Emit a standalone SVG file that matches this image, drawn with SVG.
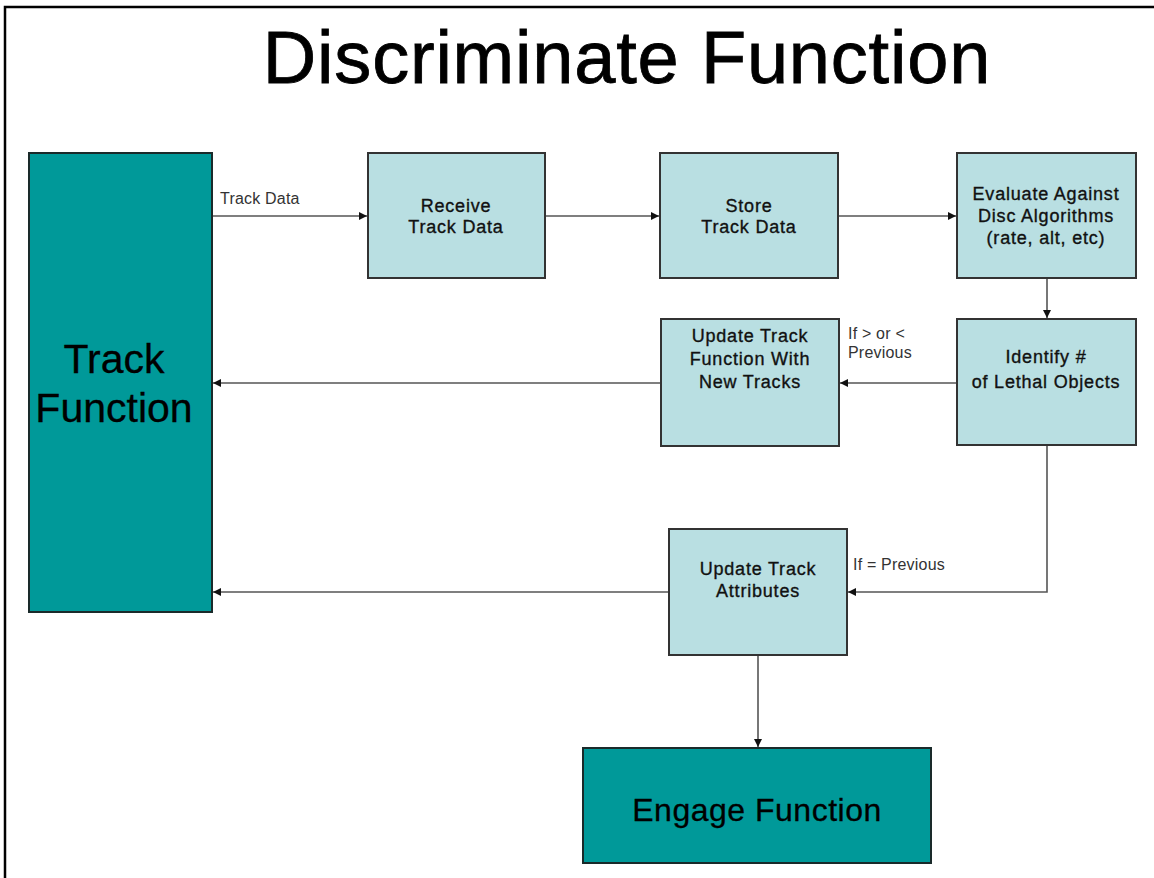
<svg xmlns="http://www.w3.org/2000/svg" width="1154" height="878" viewBox="0 0 1154 878">
  <defs>
    <style>
      .frame { fill: none; stroke: #000; stroke-width: 2.5; }
      .dark { fill: #009999; stroke: #1a2a2a; stroke-width: 2; }
      .light { fill: #b9dfe2; stroke: #333; stroke-width: 2; }
      .title { font-family: "Liberation Sans", Arial, sans-serif; font-size: 74px; fill: #000; stroke: #000; stroke-width: 0.8px; letter-spacing: 0.8px; }
      .big { font-family: "Liberation Sans", Arial, sans-serif; font-size: 41px; fill: #000; stroke: #000; stroke-width: 0.3px; }
      .txt { font-family: "Liberation Sans", Arial, sans-serif; font-size: 18px; fill: #111; stroke: #111; stroke-width: 0.35px; letter-spacing: 0.8px; text-anchor: middle; }
      .lbl { font-family: "Liberation Sans", Arial, sans-serif; font-size: 16px; fill: #333; letter-spacing: 0.2px; }
      .conn { fill: none; stroke: #555; stroke-width: 1.6; marker-end: url(#arrow); }
    </style>
    <marker id="arrow" viewBox="0 0 10 10" refX="10" refY="5" markerWidth="8" markerHeight="8" markerUnits="userSpaceOnUse" orient="auto">
      <path d="M0,0 L10,5 L0,10 z" fill="#111"/>
    </marker>
  </defs>

  <rect width="1154" height="878" fill="#fff"/>
  <!-- page frame: top and left edges only -->
  <path class="frame" d="M5,878 V7 H1154"/>

  <text class="title" x="627" y="83" text-anchor="middle">Discriminate Function</text>

  <!-- connectors -->
  <g id="connectors">
    <line class="conn" x1="212" y1="216" x2="367" y2="216"/>
    <line class="conn" x1="545" y1="216" x2="659" y2="216"/>
    <line class="conn" x1="838" y1="216" x2="956" y2="216"/>
    <line class="conn" x1="1047" y1="278" x2="1047" y2="318"/>
    <line class="conn" x1="957" y1="383" x2="840" y2="383"/>
    <line class="conn" x1="661" y1="383" x2="213" y2="383"/>
    <polyline class="conn" points="1047,445 1047,592 848,592"/>
    <line class="conn" x1="669" y1="592" x2="213" y2="592"/>
    <line class="conn" x1="758" y1="655" x2="758" y2="747"/>
    <text class="lbl" x="220" y="204">Track Data</text>
    <text class="lbl" x="848" y="339">If &gt; or &lt;</text>
    <text class="lbl" x="848" y="358">Previous</text>
    <text class="lbl" x="853" y="570">If = Previous</text>
  </g>

  <g id="track-function">
    <rect class="dark" x="29" y="153" width="183" height="459"/>
    <text class="big" x="114" y="373" text-anchor="middle">Track</text>
    <text class="big" x="114" y="422" text-anchor="middle">Function</text>
  </g>

  <g id="receive">
    <rect class="light" x="368" y="153" width="177" height="125"/>
    <text class="txt" x="456" y="212">Receive</text>
    <text class="txt" x="456" y="233">Track Data</text>
  </g>

  <g id="store">
    <rect class="light" x="660" y="153" width="178" height="125"/>
    <text class="txt" x="749" y="212">Store</text>
    <text class="txt" x="749" y="233">Track Data</text>
  </g>

  <g id="evaluate">
    <rect class="light" x="957" y="153" width="179" height="125"/>
    <text class="txt" x="1046" y="200">Evaluate Against</text>
    <text class="txt" x="1046" y="222">Disc Algorithms</text>
    <text class="txt" x="1046" y="244">(rate, alt, etc)</text>
  </g>

  <g id="identify">
    <rect class="light" x="957" y="319" width="179" height="126"/>
    <text class="txt" x="1046" y="363">Identify #</text>
    <text class="txt" x="1046" y="388">of Lethal Objects</text>
  </g>

  <g id="update-function">
    <rect class="light" x="661" y="319" width="178" height="127"/>
    <text class="txt" x="750" y="342">Update Track</text>
    <text class="txt" x="750" y="365">Function With</text>
    <text class="txt" x="750" y="388">New Tracks</text>
  </g>

  <g id="update-attributes">
    <rect class="light" x="669" y="529" width="178" height="126"/>
    <text class="txt" x="758" y="575">Update Track</text>
    <text class="txt" x="758" y="597">Attributes</text>
  </g>

  <g id="engage">
    <rect class="dark" x="583" y="748" width="348" height="115"/>
    <text class="big" x="757" y="821" text-anchor="middle" style="font-size:32px;letter-spacing:0.5px">Engage Function</text>
  </g>
</svg>
